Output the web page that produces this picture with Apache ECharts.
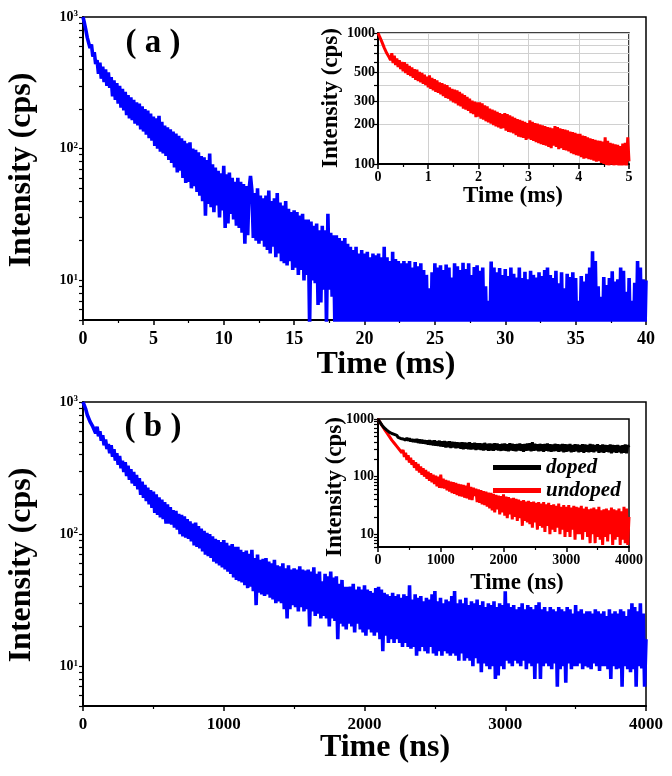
<!DOCTYPE html>
<html><head><meta charset="utf-8">
<script src="https://cdn.jsdelivr.net/npm/echarts@6/dist/echarts.min.js"></script>
<style>html,body{margin:0;padding:0;background:#fff}#c{width:672px;height:776px}</style>
</head><body><div id="c"></div><script>
// ---------- data ----------
const timeStepA = 0.1; // ms, panel (a) main
const intensityA = [
1000,900,800,700,720,580,620,500,540,440,
470,370,450,340,420,320,400,300,380,290,
350,250,330,235,315,220,300,205,285,195,
270,180,255,170,245,165,235,155,225,150,
220,140,210,135,200,128,195,120,185,115,
175,105,170,100,178,95,160,92,150,88,
145,82,140,78,135,72,130,66,125,68,
120,60,115,55,110,56,112,50,100,52,
98,47,94,44,88,40,86,31,82,38,
92,36,76,33,72,37,68,30,65,34,
74,25,64,27,66,32,60,29,56,26,
60,25,56,23,54,19,52,22,49,62,
48,21,46,20,50,19,44,20,42,18,
44,17,48,16,40,18,42,15,46,16,
39,14,37,13.5,40,13,35,14,33,12,
34,12.5,33,11,31,12,32,10,29,11,
29,4.5,28,10,26,9.5,27,6.5,24,6.8,
26,8.5,24,4.5,32,8.5,23,7.5,22,4,
22,3,21,4,20,3.5,21,3,19,4,
18,3,17,2.5,18,3.5,16,3,17,2.8,
16,3,16.5,2.6,15,3.2,16,3,15.5,2.7,
16,3,15,3.4,18,2.6,15,3,14,2.9,
16.5,3,14.5,2.7,14,3.3,13.5,2.8,14,3,
13.5,2.6,14,3.1,12.5,2.9,13.8,3.2,12.8,2.7,
13.5,3,12,2.8,11,3.3,8.7,2.6,11.5,3,
13.5,2.9,12.5,3.1,13,2.7,12,3.4,13.2,2.8,
12.5,3,10.5,2.6,13.5,3.2,12.8,2.9,12,3,
13.6,2.7,12.2,3.3,13.5,2.9,11,3,12.6,2.8,
13,3.1,11.8,2.6,12.5,3,9,2.8,7,3.2,
13.9,2.9,12.5,3,11.5,2.7,12.4,3.3,11,2.8,
12.2,3,10.8,2.6,12.5,3.1,11.2,2.9,10.5,3,
12.5,2.8,10.4,3.2,11.6,2.7,10.2,3,11.8,2.9,
11,3.1,10.5,2.7,11.5,3,10.8,2.8,12,3.3,
12.5,2.9,11,3,10.4,2.6,11.8,3.2,9.5,2.8,
11.5,3,8.7,2.7,11.2,3.1,10.6,2.9,11.5,3,
10.4,2.8,7,3.2,10.8,2.7,9.8,3,11.2,2.9,
12.5,3,16.6,2.6,14,3.2,9,2.8,7.5,3,
10.6,2.9,9.2,3.1,10.4,2.7,11.7,3,9.8,2.8,
10.2,3.2,12.5,2.9,11.8,3,8.2,2.7,10.4,3,
7,3.1,9.6,2.8,14,3,12.5,2.9,10.2,3,
10];

const timeStepInsetA = 0.025; // ms, panel (a) inset
const intensityInsetA = [
1000,950,920,860,840,770,780,700,720,650,
620,700,590,670,570,640,550,620,530,600,
510,600,495,580,480,560,470,545,455,530,
440,525,430,505,420,495,410,480,400,465,
385,475,375,455,365,445,355,435,350,420,
340,415,330,405,320,400,315,385,305,375,
295,370,290,365,280,355,275,345,265,335,
260,325,255,315,245,305,240,300,228,295,
230,295,222,290,218,280,212,275,208,265,
203,260,198,255,194,250,190,245,186,240,
188,245,180,240,176,235,174,230,171,225,
166,220,162,217,160,213,158,210,153,205,
156,215,153,210,150,205,147,203,144,200,
142,197,140,195,138,191,135,190,132,187,
138,195,135,191,130,187,132,185,128,183,
127,181,125,177,121,175,119,173,117,170,
116,170,113,165,110,163,111,160,109,157,
108,155,106,153,104,151,105,150,102,148,
100,160,98,150,97,145,99,143,97,141,
98,140,95,137,94,143,97,145,95,160,
105];

const timeStepB = 10; // ns, panel (b) main
const intensityB = [
1000,940,880,800,790,710,710,650,660,580,
650,550,600,510,560,470,520,440,480,410,
470,385,440,360,410,335,390,315,360,295,
350,275,330,258,310,242,295,232,280,218,
265,198,250,188,236,178,225,168,215,158,
210,145,200,140,190,134,182,130,175,120,
168,120,160,118,152,112,150,108,142,100,
140,96,136,94,130,92,125,88,120,82,
122,80,115,78,110,74,106,70,102,68,
100,66,96,62,92,60,90,58,87,56,
90,54,86,52,82,50,84,47,80,45,
80,44,76,43,73,41,75,39,71,40,
76,37,66,29,70,36,64,35,65,34,
66,35,62,33,60,32,64,30,58,31,
57,30,60,27,55,23,58,27,54,29,
55,28,54,26,57,28,54,26,53,27,
54,20,52,26,56,24,50,25,52,23,
44,24,50,23,48,20,52,23,47,22,
48,16,42,21,45,20,40,19,40,21,
40,20,42,18,38,21,40,19,38,18,
41,17,38,19,37,18,36,17,39,18,
40,16,38,13,36,17,35,15,34,16,
36,15,34,16,35,15,33,14,35,15,
34,14,41,13.6,32,14,35,12,33,13,
34,14,31,13,33,12.5,32,14,35,12.5,
37,12,31,13,33,12,30,13,32,12.5,
31,12,34,12.5,37,12,30,11,32,12.5,
30,11,33,11.5,29,11,31,10,30,11.5,
32,10.5,29,9,31,10.5,28,10,30,9.5,
29,10,31,8,28,8.5,30,10,29,9.5,
37,11,30,10.5,28,10,29,11,27,10.5,
28,10,30,11,27,9.5,29,10.5,28,10,
27,8,29,10.5,30.5,8,27,10,28,10.5,
26,10,28,9.5,27,10.5,26,7,28,9.5,
27,10,26,7.5,28,10.5,27,9.5,25,10,
29,10,26,10.5,27,9.5,25,10,26,9.8,
26,9.5,25,10.5,27,10,26,9.2,25,10,
26,10,24,9.5,27,8,25,10,26,9.5,
25,9.6,27,7,26,10,24,9.5,27,9,
30,9.5,28,7,26,10,30,9.6,25,7,
16];

const timeStepInsetB = 20; // ns, panel (b) inset
const dopedB = [
1000,920,860,790,740,700,660,640,600,590,
560,560,520,540,500,520,480,500,460,490,
450,480,430,470,420,460,410,450,400,445,
395,450,385,440,380,435,375,430,370,425,
360,430,355,420,350,425,345,415,340,420,
335,410,330,415,320,405,325,410,315,400,
320,400,310,395,315,390,305,395,300,390,
305,385,300,395,295,380,300,385,290,380,
295,380,290,375,285,385,290,370,280,375,
285,370,280,380,290,375,285,365,280,370,
285,375,280,365,275,380,285,370,280,365,
275,370,285,375,280,365,270,370,280,375,
285,380,275,395,280,370,285,365,275,370,
280,365,270,370,280,375,275,365,270,360,
275,370,280,365,270,360,275,370,265,365,
270,360,275,370,265,355,270,365,275,360,
265,355,270,365,260,360,270,355,265,370,
270,360,265,355,275,365,260,350,265,360,
260,355,270,350,265,360,255,355,265,350,
260,355,265,345,255,350,260,360,255,350,
320];
const undopedB = [
1000,920,870,780,760,670,650,580,560,500,
510,430,450,380,400,335,350,295,310,260,
290,220,260,195,235,175,212,160,192,142,
178,128,165,118,150,108,140,100,130,92,
122,85,115,80,108,74,104,68,100,64,
108,63,92,62,88,58,85,55,82,52,
80,50,78,48,75,46,73,45,72,43,
70,42,78,40,66,39,64,46,62,36,
60,35,58,33,56,32,55,30,53,28,
52,26,50,24,48,27,47,22,46,24,
49,21,45,19,44,22,42,18,43,20,
41,17,40,19,38,14,39,17,37,16,
38,15,36,13,37,16,35,12,36,14,
34,13,36,11,33,14,35,10,32,12,
33,11,31,13,34,10,30,12,32,9,
30,11,32,9,29,12,31,8,30,10,
29,10,31,8,28,11,30,9,27,7,
28,10,29,7,27,9,30,8,26,6.5,
27,9,28,7.5,26,10,29,6.5,27,8,
26,9,28,6.5,25,8,30,7,28,6.5,
20];

const mainYTicks = [5,6,7,8,9,10,20,30,40,50,60,70,80,90,100,200,300,400,500,600,700,800,900,1000];
const mainYLabels = [10,100,1000];
const insetAYTicks = [100,200,300,400,500,600,700,800,900,1000];
const insetAYLabels = [100,200,300,500,1000];
const insetBYTicks = [6,7,8,9,10,20,30,40,50,60,70,80,90,100,200,300,400,500,600,700,800,900,1000];
const insetBYLabels = [10,100,1000];

// ---------- chart ----------
const FONT = 'Liberation Serif';
function pairs(step, arr) { return arr.map((v, i) => [+(i * step).toFixed(4), v]); }
const black = '#000';
const plain = v => String(v);

function xAxisCfg(gi, max, interval, fs, margin, grid) {
  return {
    type: 'value', gridIndex: gi, min: 0, max: max, interval: interval,
    axisLine: { show: true, onZero: false, lineStyle: { color: black, width: 2 } },
    axisTick: { show: true, inside: false, length: 5, lineStyle: { color: black, width: 1.5 } },
    minorTick: { show: true, splitNumber: 2, length: 3, lineStyle: { color: black, width: 1.2 } },
    axisLabel: { color: black, fontFamily: FONT, fontWeight: 'bold', fontSize: fs, margin: margin, formatter: plain },
    splitLine: grid ? { show: true, lineStyle: { color: '#d0d0d0', width: 1 } } : { show: false }
  };
}
function supFmt(v) { return '{b|10}{s|' + Math.round(Math.log(v) / Math.LN10) + '}'; }
function yAxisCfg(gi, min, max, ticks, labels, fs, margin, sup, grid) {
  return {
    type: 'log', logBase: 10, gridIndex: gi, min: min, max: max,
    axisLine: { show: true, onZero: false, lineStyle: { color: black, width: 2 } },
    axisTick: { show: true, inside: false, length: 4, customValues: ticks, lineStyle: { color: black, width: 1.2 } },
    axisLabel: sup ? {
      customValues: labels, margin: margin, formatter: supFmt,
      rich: {
        b: { fontFamily: FONT, fontWeight: 'bold', fontSize: fs, color: black },
        s: { fontFamily: FONT, fontWeight: 'bold', fontSize: 9, color: black, verticalAlign: 'top', padding: [0, 0, 6, 0] }
      }
    } : { customValues: labels, margin: margin, color: black, fontFamily: FONT, fontWeight: 'bold', fontSize: fs, formatter: plain },
    splitLine: grid ? { show: true, lineStyle: { color: '#d0d0d0', width: 1 } } : { show: false },
    minorTick: { show: false }
  };
}
function label(text, x, y, size, rot) {
  return {
    type: 'text', x: x, y: y, rotation: rot ? Math.PI / 2 : 0, z: 100,
    style: { text: text, fill: black, font: 'bold ' + size + 'px "' + FONT + '"', align: 'center', verticalAlign: 'middle' }
  };
}

const chart = echarts.init(document.getElementById('c'), null, { renderer: 'canvas' });
chart.setOption({
  animation: false,
  backgroundColor: '#fff',
  grid: [
    { left: 83, top: 17, width: 563, height: 303, show: true, borderColor: black, borderWidth: 1.5, backgroundColor: 'transparent' },
    { left: 378, top: 33, width: 251, height: 131, show: true, borderColor: black, borderWidth: 1.5, backgroundColor: 'transparent' },
    { left: 83, top: 402, width: 563, height: 304, show: true, borderColor: black, borderWidth: 1.5, backgroundColor: 'transparent' },
    { left: 378, top: 419, width: 251, height: 128, show: true, borderColor: black, borderWidth: 1.5, backgroundColor: 'transparent' }
  ],
  xAxis: [
    xAxisCfg(0, 40, 5, 18, 10, false),
    xAxisCfg(1, 5, 1, 14, 6, true),
    xAxisCfg(2, 4000, 1000, 17, 10, false),
    xAxisCfg(3, 4000, 1000, 14, 6, false)
  ],
  yAxis: [
    yAxisCfg(0, 5, 1000, mainYTicks, mainYLabels, 14, 5, true, false),
    yAxisCfg(1, 100, 1000, insetAYTicks, insetAYLabels, 14, 3, false, true),
    yAxisCfg(2, 5, 1000, mainYTicks, mainYLabels, 14, 5, true, false),
    yAxisCfg(3, 6, 1000, insetBYTicks, insetBYLabels, 14, 4, false, false)
  ],
  legend: {
    data: ['doped', 'undoped'], orient: 'vertical', left: 488, top: 452,
    itemWidth: 48, itemHeight: 5, itemGap: 2, icon: 'rect',
    textStyle: { fontFamily: FONT, fontStyle: 'italic', fontWeight: 'bold', fontSize: 21, color: black }
  },
  series: [
    { type: 'line', name: 'a', xAxisIndex: 0, yAxisIndex: 0, data: pairs(timeStepA, intensityA), symbol: 'none', clip: true, lineStyle: { color: '#0000ff', width: 3.6 }, itemStyle: { color: '#0000ff' } },
    { type: 'line', name: 'inset a', xAxisIndex: 1, yAxisIndex: 1, data: pairs(timeStepInsetA, intensityInsetA), symbol: 'none', clip: true, lineStyle: { color: '#ff0000', width: 3 }, itemStyle: { color: '#ff0000' } },
    { type: 'line', name: 'b', xAxisIndex: 2, yAxisIndex: 2, data: pairs(timeStepB, intensityB), symbol: 'none', clip: true, lineStyle: { color: '#0000ff', width: 3.6 }, itemStyle: { color: '#0000ff' } },
    { type: 'line', name: 'undoped', xAxisIndex: 3, yAxisIndex: 3, data: pairs(timeStepInsetB, undopedB), symbol: 'none', clip: true, lineStyle: { color: '#ff0000', width: 3 }, itemStyle: { color: '#ff0000' } },
    { type: 'line', name: 'doped', xAxisIndex: 3, yAxisIndex: 3, data: pairs(timeStepInsetB, dopedB), symbol: 'none', clip: true, lineStyle: { color: '#000000', width: 3 }, itemStyle: { color: '#000000' } }
  ],
  graphic: [
    label('( a )', 153, 43, 33, false),
    label('( b )', 153, 427, 33, false),
    label('Intensity (cps)', 22, 170, 32, true),
    label('Time (ms)', 386, 365, 32, false),
    label('Intensity (cps)', 331, 98, 23, true),
    label('Time (ms)', 513, 196, 23, false),
    label('Intensity (cps)', 22, 565, 32, true),
    label('Time (ns)', 385, 748, 32, false),
    label('Intensity (cps)', 335, 487, 23, true),
    label('Time (ns)', 517, 583, 23, false)
  ]
});
</script></body></html>
